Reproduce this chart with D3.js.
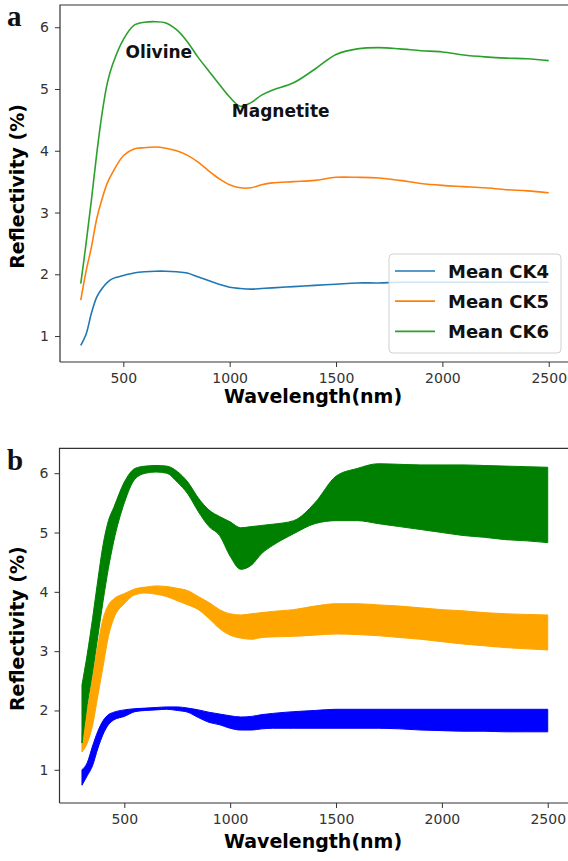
<!DOCTYPE html>
<html><head><meta charset="utf-8">
<script src="https://cdn.jsdelivr.net/npm/d3@7"></script>
<style>body{margin:0;background:#fff}svg{display:block}</style>
</head><body>
<svg id="c" width="568" height="861"></svg>
<script>
const wavelengths = [300,325,350,375,400,425,450,500,550,600,650,700,750,800,850,900,950,1000,1050,1100,1150,1200,1300,1400,1500,1600,1700,1800,1900,2000,2100,2200,2300,2400,2500];

// Panel a: mean spectra
const meanCK4 = [0.85,1.03,1.37,1.63,1.77,1.87,1.93,1.98,2.02,2.04,2.05,2.05,2.04,2.02,1.96,1.90,1.84,1.79,1.77,1.76,1.77,1.78,1.80,1.82,1.84,1.86,1.86,1.87,1.87,1.87,1.87,1.87,1.87,1.87,1.87];
const meanCK5 = [1.58,2.05,2.44,2.90,3.22,3.48,3.65,3.92,4.03,4.05,4.06,4.04,4.00,3.93,3.82,3.68,3.55,3.45,3.40,3.40,3.45,3.48,3.50,3.52,3.57,3.57,3.56,3.52,3.47,3.44,3.42,3.40,3.37,3.35,3.32];
const meanCK6 = [1.85,2.50,3.20,3.95,4.60,5.10,5.40,5.80,6.03,6.08,6.09,6.07,5.96,5.77,5.52,5.30,5.08,4.87,4.72,4.78,4.90,4.98,5.10,5.32,5.56,5.65,5.67,5.65,5.62,5.60,5.55,5.52,5.50,5.49,5.46];

// Panel b: spread (lower / upper)
const ck4Low  = [0.74,0.90,1.07,1.36,1.60,1.76,1.84,1.90,1.98,2.00,2.01,2.02,2.00,1.97,1.88,1.80,1.76,1.70,1.67,1.67,1.69,1.70,1.70,1.70,1.70,1.70,1.70,1.69,1.67,1.66,1.65,1.65,1.64,1.64,1.64];
const ck4High = [1.00,1.12,1.40,1.65,1.83,1.93,1.97,2.01,2.03,2.04,2.05,2.06,2.06,2.04,2.01,1.97,1.94,1.91,1.89,1.90,1.93,1.95,1.98,2.00,2.02,2.02,2.02,2.02,2.02,2.02,2.02,2.02,2.02,2.02,2.02];
const ck5Low  = [1.30,1.45,1.75,2.25,2.75,3.25,3.55,3.80,3.95,3.98,3.96,3.92,3.85,3.78,3.70,3.55,3.38,3.27,3.22,3.20,3.23,3.24,3.25,3.27,3.29,3.28,3.26,3.23,3.20,3.16,3.12,3.09,3.06,3.04,3.02];
const ck5High = [1.62,2.00,2.55,3.10,3.55,3.78,3.88,3.97,4.05,4.08,4.10,4.09,4.06,4.02,3.92,3.82,3.70,3.63,3.61,3.63,3.65,3.67,3.70,3.76,3.80,3.80,3.78,3.76,3.73,3.70,3.68,3.65,3.63,3.62,3.61];
const ck6Low  = [1.45,2.10,2.65,3.25,3.85,4.40,4.85,5.50,5.90,6.00,6.02,6.00,5.85,5.65,5.35,5.10,4.95,4.60,4.38,4.45,4.65,4.78,4.98,5.15,5.20,5.20,5.15,5.10,5.05,5.00,4.95,4.92,4.88,4.86,4.83];
const ck6High = [2.43,2.95,3.55,4.20,4.80,5.20,5.42,5.85,6.08,6.12,6.13,6.12,6.03,5.85,5.58,5.38,5.27,5.18,5.08,5.10,5.12,5.14,5.20,5.50,5.95,6.08,6.16,6.15,6.14,6.14,6.14,6.13,6.12,6.11,6.10];

const seriesNames = ["Mean CK4","Mean CK5","Mean CK6"];
const lineColors = ["#1f77b4","#ff7f0e","#2ca02c"];
const bandColors = ["#0000ff","#ffa500","#008000"];
const xTicks = [500,1000,1500,2000,2500];
const yTicks = [1,2,3,4,5,6];
const annotations = [{text:"Olivine", w:510, v:5.51},{text:"Magnetite", w:1010, v:4.54}];

const svg = d3.select("#c");
const tickFont = "DejaVu Sans";

function drawAxes(g, x, y, top, bottom, left){
  const ax = g.append("g").attr("transform",`translate(0,${bottom})`)
    .call(d3.axisBottom(x).tickValues(xTicks).tickSize(5).tickPadding(6).tickFormat(d3.format("d")));
  const ay = g.append("g").attr("transform",`translate(${left},0)`)
    .call(d3.axisLeft(y).tickValues(yTicks).tickSize(5).tickPadding(6).tickFormat(d3.format("d")));
  [ax,ay].forEach(a=>{
    a.select(".domain").remove();
    a.selectAll("line").attr("stroke","#333").attr("stroke-width",1);
    a.selectAll("text").attr("font-family",tickFont).attr("font-size",14).attr("fill","#333");
  });
  g.append("path").attr("d",`M${left},${bottom}V${top}H${570}`).attr("fill","none").attr("stroke","#333").attr("stroke-width",1.2);
  g.append("line").attr("x1",left).attr("x2",570).attr("y1",bottom).attr("y2",bottom).attr("stroke","#333").attr("stroke-width",1.2);
}

function labels(g, top, bottom, xLabelY, letter, letterY){
  g.append("text").attr("x",313).attr("y",xLabelY).attr("text-anchor","middle")
    .attr("font-family","DejaVu Sans").attr("font-weight","bold").attr("font-size",19).text("Wavelength(nm)");
  const cy=(top+bottom)/2+3;
  g.append("text").attr("transform",`translate(24,${cy}) rotate(-90)`).attr("text-anchor","middle")
    .attr("font-family","DejaVu Sans").attr("font-weight","bold").attr("font-size",19).text("Reflectivity (%)");
  g.append("text").attr("x",7).attr("y",letterY).attr("font-family","Liberation Serif").attr("font-weight","bold")
    .attr("font-size",29).attr("fill","#111").text(letter);
}

// ---------- Panel a ----------
{
  const top=5, bottom=362, left=60;
  const x = d3.scaleLinear().domain([200,2600]).range([59.5,570]);
  const y = d3.scaleLinear().domain([0.58,6.36]).range([bottom,top]);
  const g = svg.append("g");
  const data = [meanCK4, meanCK5, meanCK6];
  const line = d3.line().x((d,i)=>x(wavelengths[i])).y(d=>y(d)).curve(d3.curveCatmullRom.alpha(0.5));
  data.forEach((s,k)=>{
    g.append("path").attr("d",line(s)).attr("fill","none").attr("stroke",lineColors[k]).attr("stroke-width",1.6);
  });
  drawAxes(g,x,y,top,bottom,left);
  annotations.forEach(a=>{
    g.append("text").attr("x",x(a.w)).attr("y",y(a.v)).attr("font-family","DejaVu Sans").attr("font-weight","bold")
      .attr("font-size",17).attr("fill","#111").text(a.text);
  });
  const lg = g.append("g");
  lg.append("rect").attr("x",389).attr("y",254).attr("width",172).attr("height",99).attr("rx",4)
    .attr("fill","#fff").attr("fill-opacity",0.8).attr("stroke","#d0d0d0");
  seriesNames.forEach((n,k)=>{
    const yy = 271 + k*30.2;
    lg.append("line").attr("x1",395).attr("x2",435).attr("y1",yy).attr("y2",yy).attr("stroke",lineColors[k]).attr("stroke-width",1.7);
    lg.append("text").attr("x",448).attr("y",yy+6.5).attr("font-family","DejaVu Sans").attr("font-weight","bold")
      .attr("font-size",18).attr("fill","#111").text(n);
  });
  labels(g, top, bottom, 403, "a", 26);
}

// ---------- Panel b ----------
{
  const top=448.3, bottom=803, left=59.5;
  const x = d3.scaleLinear().domain([200,2600]).range([60.8,568.9]);
  const y = d3.scaleLinear().domain([0.44,6.42]).range([bottom,top]);
  const g = svg.append("g");
  const bands = [[ck4Low,ck4High],[ck5Low,ck5High],[ck6Low,ck6High]];
  bands.forEach((b,k)=>{
    const area = d3.area().x((d,i)=>x(wavelengths[i])).y0((d,i)=>y(b[0][i])).y1((d,i)=>y(b[1][i])).curve(d3.curveMonotoneX);
    g.append("path").attr("d",area(b[0])).attr("fill",bandColors[k]).attr("stroke",bandColors[k]).attr("stroke-width",1);
  });
  drawAxes(g,x,y,top,bottom,left);
  labels(g, top, bottom, 848, "b", 470);
}
</script>
</body></html>
